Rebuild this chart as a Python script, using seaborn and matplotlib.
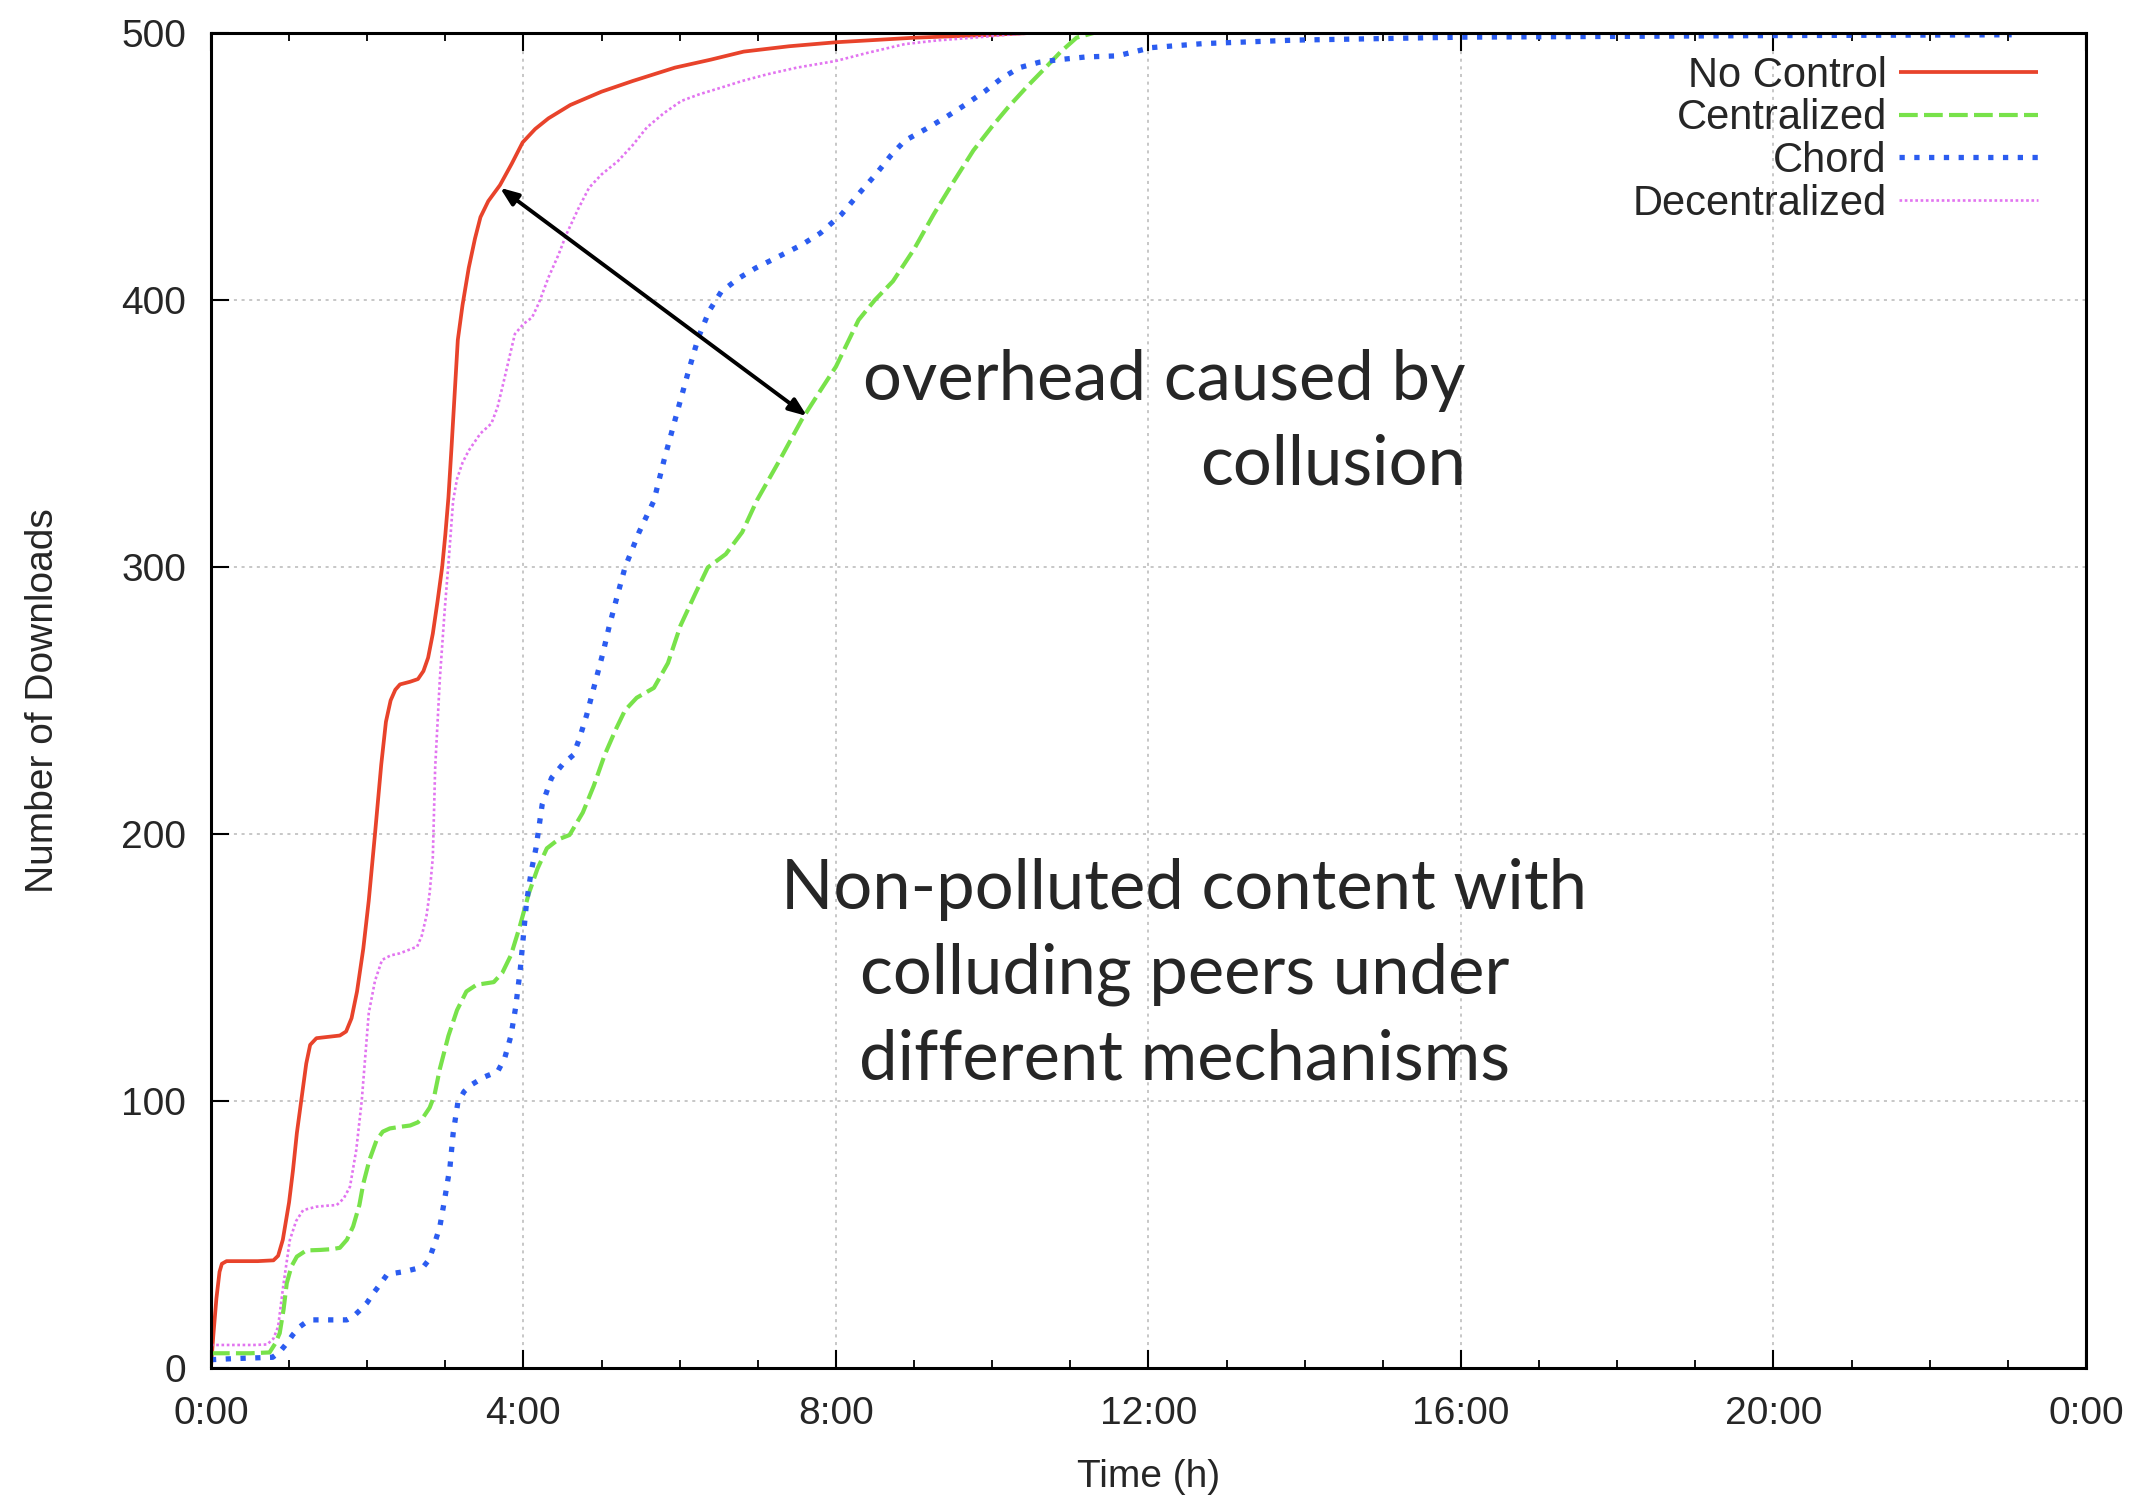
import numpy as np
import pandas as pd
import matplotlib
matplotlib.use("Agg")
import matplotlib.pyplot as plt
import seaborn as sns
from matplotlib.ticker import FixedLocator, MultipleLocator

# ---------------- data (time in hours, number of downloads) ----------------
series_names = ["No Control", "Centralized", "Chord", "Decentralized"]

nc_t = [0.0, 0.03, 0.07, 0.11, 0.14, 0.2, 0.4, 0.6, 0.8, 0.86, 0.92, 1.0, 1.05, 1.1,
        1.16, 1.22, 1.27, 1.35, 1.5, 1.65, 1.73, 1.8, 1.87, 1.95, 2.02, 2.1, 2.18,
        2.24, 2.3, 2.36, 2.42, 2.55, 2.65, 2.72, 2.78, 2.84, 2.9, 2.96, 3.0, 3.04,
        3.08, 3.12, 3.16, 3.22, 3.3, 3.38, 3.45, 3.55, 3.7, 3.85, 3.99, 4.15, 4.32,
        4.6, 5.0, 5.4, 5.94, 6.4, 6.82, 7.4, 8.0, 9.0, 10.0, 10.5, 13.0]
nc_v = [0, 12, 26, 36, 39, 40, 40, 40, 40.3, 42, 48, 62, 74, 88, 101, 114, 121, 123.5,
        124, 124.5, 126, 131, 141, 157, 175, 200, 226, 242, 250, 254, 256, 257, 258,
        261, 266, 275, 287, 300, 312, 326, 345, 365, 385, 398, 412, 423, 431, 437,
        443, 451, 459, 464, 468, 473, 478, 482, 487, 490, 493, 495, 496.5, 498.2,
        499.3, 500, 500]

ce_t = [0.0, 0.2, 0.5, 0.75, 0.82, 0.88, 0.93, 0.97, 1.03, 1.1, 1.22, 1.4, 1.55, 1.65,
        1.74, 1.82, 1.9, 1.95, 2.03, 2.12, 2.2, 2.29, 2.42, 2.55, 2.65, 2.72, 2.8,
        2.86, 2.93, 3.04, 3.15, 3.27, 3.4, 3.62, 3.73, 3.84, 3.95, 4.07, 4.18, 4.3,
        4.45, 4.59, 4.76, 4.9, 5.04, 5.18, 5.3, 5.45, 5.67, 5.85, 6.01, 6.2, 6.36,
        6.59, 6.8, 6.99, 7.28, 7.56, 7.8, 8.0, 8.29, 8.5, 8.73, 9.0, 9.25, 9.5,
        9.76, 10.0, 10.2, 10.45, 10.65, 10.88, 11.08, 11.3, 13.07]
ce_v = [5.5, 5.5, 5.5, 5.8, 9, 13, 22, 31.7, 38, 41.7, 44, 44.2, 44.5, 45, 48, 53, 61,
        69, 78, 85.3, 88.5, 89.7, 90.3, 90.8, 92, 94, 97.5, 102, 112, 124.4, 134,
        141, 143.5, 144.5, 148, 154.6, 165, 177.8, 187, 194.6, 198, 199.6, 208, 218,
        229.6, 239, 246.3, 251, 254.7, 264, 278, 290, 299.8, 304.8, 313, 325, 340,
        355, 366, 375, 392.5, 400, 407, 419, 432, 444, 456, 465, 472, 480, 486,
        493, 498.2, 500, 500]

ch_t = [0.0, 0.3, 0.6, 0.79, 0.88, 0.97, 1.05, 1.14, 1.22, 1.31, 1.5, 1.74, 1.83, 1.91,
        2.0, 2.08, 2.17, 2.25, 2.35, 2.46, 2.6, 2.72, 2.79, 2.85, 2.93, 2.99, 3.06,
        3.1, 3.16, 3.24, 3.33, 3.5, 3.67, 3.76, 3.84, 3.9, 3.96, 4.04, 4.1, 4.16,
        4.24, 4.36, 4.5, 4.64, 4.72, 4.81, 4.93, 5.02, 5.1, 5.2, 5.3, 5.48, 5.67,
        5.8, 5.94, 6.1, 6.24, 6.38, 6.53, 6.75, 6.97, 7.25, 7.56, 7.8, 8.07, 8.3,
        8.51, 8.7, 8.88, 9.15, 9.4, 9.65, 9.91, 10.12, 10.35, 10.6, 10.86, 11.2,
        11.6, 12.04, 12.7, 13.87, 16.0, 20.0, 23.05]
ch_v = [3.1, 3.5, 3.8, 4, 6, 9.2, 12.5, 15.5, 17.2, 18, 18, 18, 19.5, 21.7, 24.5, 28,
        31.5, 34.8, 35.5, 36, 37, 37.9, 40.5, 45.4, 52.9, 62.9, 75.3, 87.8, 99.3,
        103.5, 106, 109, 111, 116, 124.4, 135, 149.4, 174.5, 186, 194.6, 211, 221,
        226, 229.6, 236, 244.6, 258, 268, 278, 289, 299.8, 313, 324.8, 340, 355,
        372, 386, 396, 403, 408, 411.9, 416, 420.6, 425, 432, 440, 447, 454,
        459.6, 464, 468.3, 473, 478.2, 483, 487, 489, 490, 491, 491.4, 494.5, 496,
        497.3, 498.4, 499, 499.3]

de_t = [0.0, 0.3, 0.55, 0.72, 0.8, 0.86, 0.93, 1.01, 1.09, 1.18, 1.35, 1.5, 1.61, 1.7,
        1.78, 1.86, 1.93, 2.02, 2.1, 2.19, 2.3, 2.42, 2.64, 2.7, 2.76, 2.8, 2.84,
        2.87, 2.93, 2.99, 3.05, 3.1, 3.15, 3.22, 3.3, 3.45, 3.59, 3.67, 3.74, 3.89,
        4.0, 4.11, 4.2, 4.32, 4.45, 4.55, 4.7, 4.84, 5.0, 5.21, 5.4, 5.58, 5.8,
        6.02, 6.25, 6.53, 6.8, 7.12, 7.5, 8.0, 8.4, 8.88, 9.3, 9.76, 10.2, 10.6,
        12.0]
de_v = [8.6, 8.6, 8.6, 8.8, 11, 15.5, 31.7, 47.9, 55, 59.1, 60.4, 60.8, 61, 63.5,
        67.9, 81.6, 100, 132.9, 145, 152.8, 154.5, 155.3, 157.8, 162, 169.5, 178,
        191.2, 224.6, 258, 283, 305, 324.8, 333, 339, 343.6, 350, 353.7, 360, 368.5,
        387.2, 391, 393.4, 399, 408.4, 417, 424.6, 434, 442, 447, 452, 458, 464.6,
        470, 474.5, 477, 479.5, 482, 484.5, 487, 489.5, 492.5, 495.8, 497.2, 498.2,
        499.3, 500, 500]

x_ticks = [0, 4, 8, 12, 16, 20, 24]
x_tick_labels = ["0:00", "4:00", "8:00", "12:00", "16:00", "20:00", "0:00"]
y_ticks = [0, 100, 200, 300, 400, 500]

colors = ["#e8432b", "#78e24a", "#2b5cf0", "#e274f0"]

# ---------------- figure ----------------
sns.set_theme(style="white")
plt.rcParams['font.family'] = ['Liberation Sans', 'DejaVu Sans']

fig = plt.figure(figsize=(21.35, 14.96), dpi=100)
ax = fig.add_axes([0.0988, 0.0856, 0.977 - 0.0988, 0.978 - 0.0856])

ax.grid(True, which="major", color="#b8b8b8", linestyle=(0, (2, 3)), linewidth=1.1)
ax.set_axisbelow(True)

data_sets = [(nc_t, nc_v), (ce_t, ce_v), (ch_t, ch_v), (de_t, de_v)]
styles = [
    dict(lw=2.7, ls="-"),
    dict(lw=3.0, ls=(0, (4.5, 1.5))),
    dict(lw=3.8, ls=(0, (1.0, 1.8))),
    dict(lw=1.9, ls=(0, (1.0, 1.0))),
]
for name, (t, v), col, st in zip(series_names, data_sets, colors, styles):
    df = pd.DataFrame({"t": t, "v": v})
    sns.lineplot(data=df, x="t", y="v", ax=ax, color=col, linewidth=st["lw"],
                 linestyle=st["ls"], label=name, estimator=None, sort=False)
for ln in ax.lines:
    ln.set_dash_capstyle("butt")
    ln.set_solid_capstyle("butt")

ax.set_xlim(0, 24)
ax.set_ylim(0, 500)
ax.xaxis.set_major_locator(FixedLocator(x_ticks))
ax.set_xticklabels(x_tick_labels)
ax.xaxis.set_minor_locator(MultipleLocator(1))
ax.yaxis.set_major_locator(FixedLocator(y_ticks))

ax.tick_params(axis="x", which="major", direction="in", length=13, width=1.5,
               top=True, bottom=True, labelsize=28, pad=20, color="black")
ax.tick_params(axis="y", which="major", direction="in", length=13, width=1.5,
               left=True, right=False, labelsize=28, pad=18, color="black")
ax.tick_params(axis="x", which="minor", direction="in", length=6, width=1.3,
               top=True, bottom=True, color="black")
for sp in ax.spines.values():
    sp.set_color("black")
    sp.set_linewidth(2.2)

ax.set_xlabel("Time (h)", fontsize=28, labelpad=20)
ax.set_ylabel("Number of Downloads", fontsize=28, labelpad=43)

leg = ax.legend(loc="upper right", bbox_to_anchor=(0.9744, 0.983), frameon=False,
                markerfirst=False, fontsize=30, handlelength=3.33, handletextpad=0.3,
                labelspacing=0.065, borderaxespad=0, borderpad=0)

ax.annotate("", xy=(3.70, 442), xytext=(7.63, 356.5),
            arrowprops=dict(arrowstyle="<|-|>,head_length=0.9,head_width=0.35",
                            color="black", lw=2.8, shrinkA=0, shrinkB=0))

ax.text(16.06, 354, "overhead caused by\ncollusion", ha="right", va="center",
        multialignment="right", fontsize=49.5, family=["Lato", "DejaVu Sans"],
        linespacing=1.43)
ax.text(12.46, 147.3, "Non-polluted content with\ncolluding peers under\ndifferent mechanisms",
        ha="center", va="center", multialignment="center", fontsize=49.5,
        family=["Lato", "DejaVu Sans"], linespacing=1.43)

fig.savefig("out.png", dpi=100, facecolor="white")
